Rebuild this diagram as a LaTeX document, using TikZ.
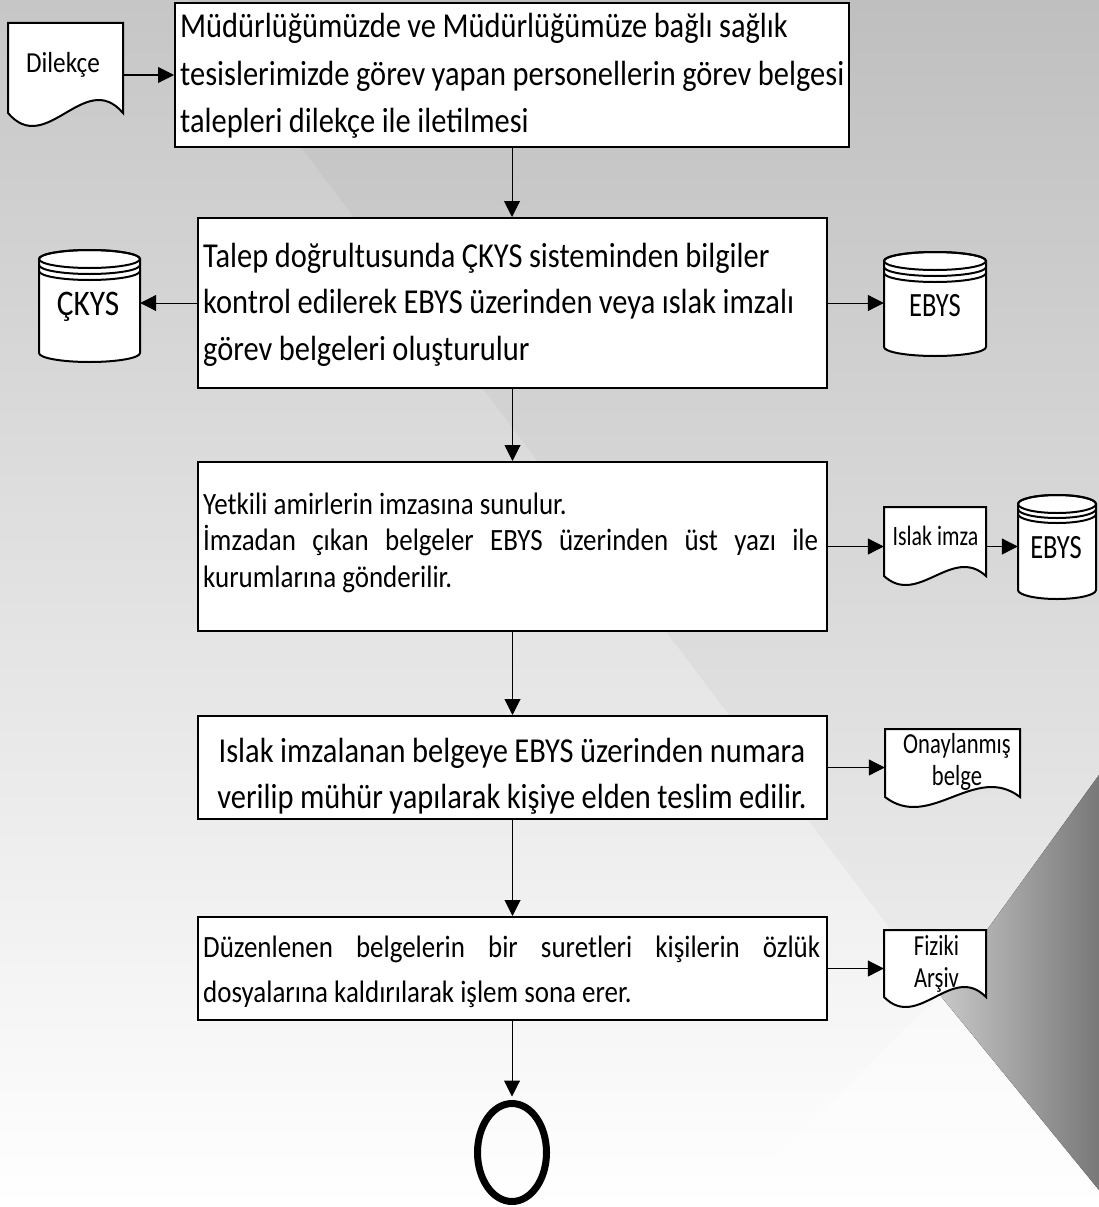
\documentclass[tikz,border=0pt]{standalone}
\usepackage{fontspec}
\setmainfont{Carlito}[FakeStretch=0.87]
\newfontfamily\jfont{Carlito}[FakeStretch=0.87]
\newfontfamily\narrowfont{Carlito}[FakeStretch=0.78]
\usetikzlibrary{arrows.meta,shapes.geometric}
\definecolor{bgtop}{RGB}{198,198,198}
\definecolor{tril}{RGB}{200,200,200}
\definecolor{trir}{RGB}{120,120,120}
\hyphenpenalty=10000 \exhyphenpenalty=10000 \tolerance=10000

% document shape: name, x0, x1, ytop, yside, amplitude
\newcommand{\mydoc}[6]{%
  \pgfmathsetmacro{\dock}{3.46*#6}%
  \pgfmathsetmacro{\docw}{#3-#2}%
  \filldraw[shapeline] (#2,#4) -- (#3,#4) -- (#3,#5) .. controls (#3-\docw/3,#5-\dock) and (#2+\docw/3,#5+\dock) .. (#2,#5) -- cycle;
  \node[inner sep=0pt,minimum width={#3-#2},minimum height={#5-#4}] (#1) at ({(#2+#3)/2},{(#4+#5)/2}) {};
}
% cylinder: name, x0, x1, ytop, ybottom, ry, rim gap
\newcommand{\mycyl}[7]{%
  \pgfmathsetmacro{\cylrx}{(#3-#2)/2}%
  \filldraw[shapeline] (#2,#4+#6) -- (#2,#5-#6) arc[start angle=180,end angle=0,x radius=\cylrx,y radius=#6] -- (#3,#4+#6) arc[start angle=0,end angle=-180,x radius=\cylrx,y radius=#6] -- cycle;
  \draw[line width=2pt] ({(#2+#3)/2},#4+#6) ellipse[x radius=\cylrx,y radius=#6];
  \draw[line width=2pt] (#2,#4+#6+#7) arc[start angle=180,end angle=0,x radius=\cylrx,y radius=#6];
  \draw[line width=2pt] (#2,#4+#6+2*#7) arc[start angle=180,end angle=0,x radius=\cylrx,y radius=#6];
  \node[inner sep=0pt,minimum width={#3-#2},minimum height={#5-#4}] (#1) at ({(#2+#3)/2},{(#4+#5)/2}) {};
}

\begin{document}
\begin{tikzpicture}[x=1pt,y=-1pt,
  box/.style={draw=black,line width=2pt,fill=white,inner sep=0pt},
  shapeline/.style={draw=black,line width=2pt,fill=white},
  arr/.style={draw=black,line width=1pt,-{Triangle[length=16pt,width=16pt]}},
  tightsp/.style={execute at begin node={\spaceskip=#1\relax}},
  bigtxt/.style={inner sep=0pt,font=\fontsize{35}{47.5}\selectfont,tightsp=6.5pt},
  smalltxt/.style={inner sep=0pt,font=\jfont\fontsize{31}{36.5}\selectfont},
  lbl/.style={inner sep=0pt,anchor=base},
  nlbl/.style={inner sep=0pt,anchor=base,font=\narrowfont\fontsize{29}{32}\selectfont}]
\useasboundingbox (0,0) rectangle (1099,1207);
% background
\fill[top color=bgtop,bottom color=white] (0,0) rectangle (1099,1207);
\fill[black,opacity=0.03] (190,0) -- (1099,0) -- (1099,775) -- (940,995) -- cycle;
\fill[white,opacity=0.4] (940,995) -- (1099,1190) -- (1099,1207) -- (723,1207) -- cycle;
\fill[left color=tril,right color=trir] (1099,775) -- (940,995) -- (1099,1190) -- cycle;

% process boxes
\node[box,minimum width=674pt,minimum height=144pt] (b1) at (512,75) {};
\node[box,minimum width=629pt,minimum height=170pt] (b2) at (512.5,303) {};
\node[box,minimum width=629pt,minimum height=169pt] (b3) at (512.5,546.5) {};
\node[box,minimum width=629pt,minimum height=103pt] (b4) at (512.5,767.5) {};
\node[box,minimum width=629pt,minimum height=103pt] (b5) at (512.5,968.5) {};

\node[bigtxt,anchor=base west,text width=720pt,align=left] (t1) at (180,38)
  {Müdürlüğümüzde ve Müdürlüğümüze bağlı sağlık\\tesislerimizde görev yapan personellerin görev belgesi\\talepleri dilekçe ile iletilmesi};
\node[bigtxt,font=\fontsize{35}{46.5}\selectfont,anchor=base west,text width=700pt,align=left] (t2) at (203,267)
  {Talep doğrultusunda ÇKYS sisteminden bilgiler\\kontrol edilerek EBYS üzerinden veya ıslak imzalı\\görev belgeleri oluşturulur};
\node[smalltxt,anchor=base west,text width=615pt,align=justify] (t3) at (203,514)
  {Yetkili amirlerin imzasına sunulur.\\İmzadan çıkan belgeler EBYS üzerinden üst yazı ile kurumlarına gönderilir.};
\node[bigtxt,font=\fontsize{35}{46}\selectfont,anchor=base,text width=700pt,align=center] (t4) at (512,762)
  {Islak imzalanan belgeye EBYS üzerinden numara\\verilip mühür yapılarak kişiye elden teslim edilir.};
\node[smalltxt,font=\jfont\fontsize{31}{45}\selectfont,anchor=base west,text width=617pt,align=justify] (t5) at (203,957)
  {Düzenlenen belgelerin bir suretleri kişilerin özlük dosyalarına kaldırılarak işlem sona erer.};

% documents and stores
\mydoc{dil}{8}{123}{23}{113}{13}
\node[lbl,font=\fontsize{29}{34}\selectfont] (dilt) at (63,72) {Dilekçe};

\mycyl{ckys}{39}{140}{250}{362}{9}{6}
\node[lbl,font=\fontsize{36}{40}\selectfont] (ckyst) at (88,315) {ÇKYS};

\mycyl{eb1}{884}{986}{252}{356}{9}{6}
\node[lbl,font=\narrowfont\fontsize{34}{36}\selectfont] (eb1t) at (935,316) {EBYS};

\mydoc{isl}{884}{986}{507}{576}{9}
\node[lbl,font=\narrowfont\fontsize{28}{32}\selectfont,tightsp=5pt] (islt) at (935.5,545) {Islak imza};

\mycyl{eb2}{1018}{1096}{495}{599}{9}{5}
\node[lbl,font=\narrowfont\fontsize{34}{36}\selectfont] (eb2t) at (1056,558) {EBYS};

\mydoc{onay}{885}{1020}{729}{797}{10}
\node[nlbl,text width=130pt,align=center] (onayt) at (957,753) {Onaylanmış\\belge};

\mydoc{fiz}{884}{986}{930}{997}{10}
\node[nlbl,text width=100pt,align=center] (fizt) at (936.5,955) {Fiziki\\Arşiv};

% end
\node[draw=black,ellipse,line width=7pt,minimum width=69pt,minimum height=98pt,inner sep=0pt] (endc) at (512,1152.5) {};

% connectors
\draw[arr] (dil.east |- b1.west) -- (b1.west);
\draw[arr] (b1.south) -- (b1.south |- b2.north);
\draw[arr] (b2.west) -- (ckys.east |- b2.west);
\draw[arr] (b2.east) -- (eb1.west |- b2.east);
\draw[arr] (b2.south) -- (b2.south |- b3.north);
\draw[arr] (b3.east) -- (isl.west |- b3.east);
\draw[arr] (isl.east |- b3.east) -- (eb2.west |- b3.east);
\draw[arr] (b3.south) -- (b3.south |- b4.north);
\draw[arr] (b4.east) -- (onay.west |- b4.east);
\draw[arr] (b4.south) -- (b4.south |- b5.north);
\draw[arr] (b5.east) -- (fiz.west |- b5.east);
\draw[arr,shorten >=3.5pt] (endc.north |- b5.south) -- (endc.north);
\end{tikzpicture}
\end{document}
